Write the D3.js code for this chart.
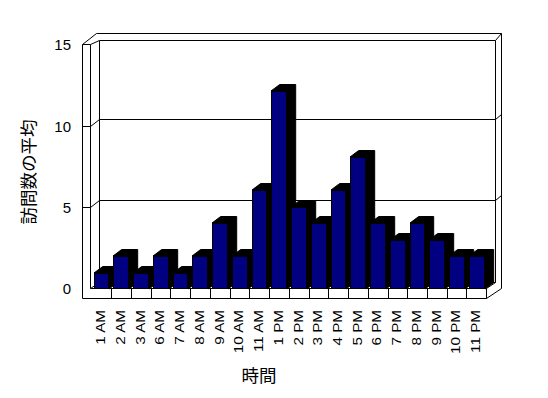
<!DOCTYPE html>
<html>
<head>
<meta charset="utf-8">
<script src="https://cdn.jsdelivr.net/npm/d3@7"></script>
<style>
  html, body { margin: 0; padding: 0; background: #fff; }
  svg { display: block; }
</style>
</head>
<body>
<svg id="chart" width="548" height="398"></svg>
<script>
// ---- data ----
const categories = ["1 AM","2 AM","3 AM","6 AM","7 AM","8 AM","9 AM","10 AM","11 AM",
                    "1 PM","2 PM","3 PM","4 PM","5 PM","6 PM","7 PM","8 PM","9 PM","10 PM","11 PM"];
const visits = [1,2,1,2,1,2,4,2,6,12,5,4,6,8,4,3,4,3,2,2];
const yTicks = [0,5,10,15];
const yTitle = "訪問数の平均";
const xTitle = "時間";

// ---- layout ----
const svg = d3.select("#chart");
const W = 548, H = 398;
svg.append("rect").attr("width", W).attr("height", H).attr("fill", "#fff");

const frontLeft = 90.5, frontRight = 486.5, wallOuter = 82.5;
const floorTop = 288.5, floorBottom = 298.5;
const wallDX = 9, wallDY = -6.5;      // front plane -> back wall plane
const thickX = 6, thickY = -7;        // wall thickness
const barDX = 8.7, barDY = -6.5;      // bar depth

const x = d3.scaleBand().domain(categories).range([91.9, 486.7]).paddingInner(0).paddingOuter(0);
const yWall = d3.scaleLinear().domain([0, 15]).range([288.3, 45]);   // ticks on wall front
const yBar = d3.scaleLinear().domain([0, 15]).range([289, 41.5]);    // bar front faces
const yBack = v => yWall(v) - 6.7;                                    // on back wall

const px = v => Math.round(v - 0.5) + 0.5;

const backL = px(frontLeft + wallDX), backR = px(frontRight + wallDX);
const backTop = 40.5, outerTop = backTop + thickY;
const backBottom = px(floorTop + wallDY);

const g = svg.append("g").attr("fill", "none").attr("stroke", "#000").attr("stroke-width", 1);

// frame
const lines = [
  [[wallOuter, 44.5], [backL - 3, outerTop]],
  [[backL - 3, outerTop], [backR + thickX, outerTop]],
  [[backR + thickX, outerTop], [backR + thickX, floorTop]],
  [[backR + thickX, floorTop], [frontRight, floorBottom]],
  [[frontRight, floorBottom], [wallOuter, floorBottom]],
  [[wallOuter, floorBottom], [wallOuter, 44.5]],
  [[wallOuter, 44.5], [frontLeft, 44.5]],
  [[frontLeft, 44.5], [frontLeft, floorTop]],
  [[frontLeft, 44.5], [backL, backTop]],
  [[backL, backTop], [backR, backTop]],
  [[backR, backTop], [backR + thickX, outerTop]],
  [[backR, backTop], [backR, backBottom]],
  [[backL, backTop], [backL, backBottom]],
  [[backL, backBottom], [backR, backBottom]],
  [[frontLeft, floorTop], [backL, backBottom]],
  [[frontLeft, floorTop], [frontRight, floorTop]],
  [[frontRight, floorTop], [frontRight, floorBottom]],
  [[frontRight, floorTop], [backR, backBottom]]
];
g.selectAll("path.frame").data(lines).join("path")
  .attr("class", "frame")
  .attr("d", d => d3.line()(d));

// gridlines
yTicks.filter(v => v > 0 && v < 15).forEach(v => {
  const yf = px(yWall(v)), yb = px(yBack(v));
  g.append("path").attr("d", d3.line()([
    [wallOuter, yf], [frontLeft, yf], [backL, yb], [backR, yb], [backR + thickX, yb - 5]
  ]));
});

// floor ticks
categories.slice(1).forEach(c => {
  const xx = px(x(c));
  g.append("line").attr("x1", xx).attr("x2", xx).attr("y1", floorTop).attr("y2", floorBottom);
});

// bars
const bw = x.bandwidth();
const bars = svg.append("g");
categories.forEach((c, i) => {
  const v = visits[i];
  const x1 = Math.round(x(c) + 0.09 * bw), x2 = Math.round(x(c) + 0.89 * bw);
  const yt = Math.round(yBar(v)), y0 = Math.round(yBar(0));
  bars.append("path")
    .attr("d", d3.line()([
      [x1, yt], [x1 + barDX, yt + barDY], [x2 + barDX, yt + barDY],
      [x2 + barDX, y0 + barDY], [x2, y0], [x2, yt]
    ]) + "Z")
    .attr("fill", "#000").attr("stroke", "#000").attr("stroke-width", 1);
  bars.append("rect")
    .attr("x", x1 + 0.5).attr("y", yt + 0.5)
    .attr("width", x2 - x1 - 1).attr("height", y0 - yt - 1)
    .attr("fill", "#000080").attr("stroke", "#000").attr("stroke-width", 1);
});

// y tick labels
svg.append("g").selectAll("text").data(yTicks).join("text")
  .attr("x", 71).attr("y", d => yWall(d)).attr("dy", "0.36em")
  .attr("text-anchor", "end")
  .attr("font-family", "Liberation Sans, Arial, sans-serif")
  .attr("font-size", 15).attr("fill", "#000")
  .text(d => d);

// x tick labels
svg.append("g").selectAll("text").data(categories).join("text")
  .attr("transform", d => `translate(${x(d) + bw / 2 - 1},310) rotate(-90) scale(1.27,1)`)
  .attr("dy", "0.36em")
  .attr("text-anchor", "end")
  .attr("font-family", "Liberation Sans, Arial, sans-serif")
  .attr("font-size", 12).attr("fill", "#000")
  .text(d => d);

// titles
svg.append("text")
  .attr("transform", "translate(28.5,172) rotate(-90)")
  .attr("text-anchor", "middle").attr("dy", "0.35em")
  .attr("font-family", "Noto Sans CJK JP, sans-serif")
  .attr("font-size", 17.5).attr("fill", "#000")
  .text(yTitle);

svg.append("text")
  .attr("x", 259).attr("y", 376).attr("dy", "0.35em")
  .attr("text-anchor", "middle")
  .attr("font-family", "Noto Sans CJK JP, sans-serif")
  .attr("font-size", 17.5).attr("fill", "#000")
  .text(xTitle);
</script>
</body>
</html>
